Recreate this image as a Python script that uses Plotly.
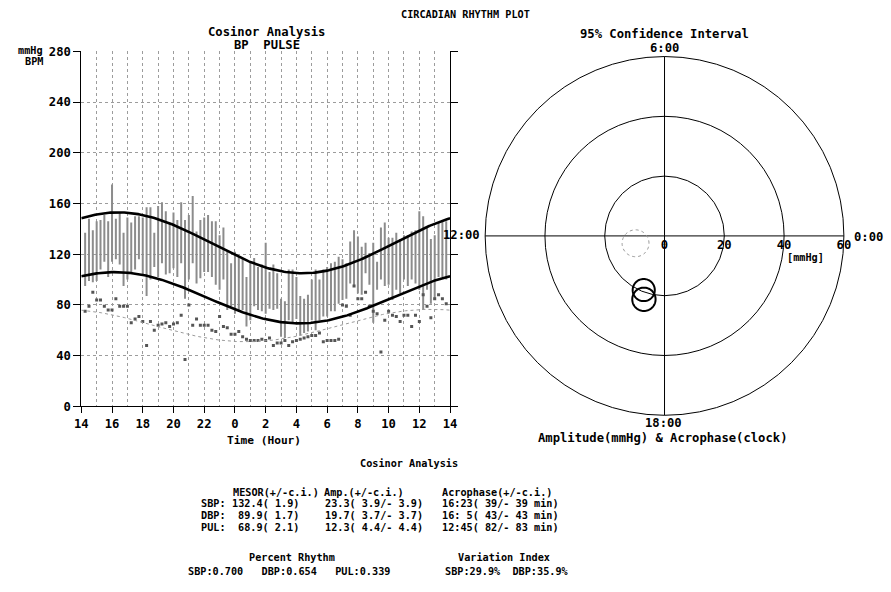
import math
import plotly.graph_objects as go

# the capture maps figure pixels to the 891x592 picture as
#   pic = (fig + 8) * (891/907, 592/608); positions below are given in picture pixels
SX, SY, OFF = 907 / 891, 608 / 592, 8
W, H = 899, 600
FS = SX  # font compensation
MONO = "DejaVu Sans Mono"

# ---------------- data ----------------
# measurement times (hours on a 14:00 -> 14:00 axis, values > 24 are next day)
time_h = [14.25, 14.5, 14.75, 15.0, 15.25, 15.5, 15.75, 16.0, 16.25, 16.5,
          16.75, 17.0, 17.25, 17.5, 17.75, 18.0, 18.25, 18.5, 18.75, 19.0,
          19.25, 19.5, 19.75, 20.0, 20.25, 20.5, 20.75, 21.0, 21.25, 21.5,
          21.75, 22.0, 22.25, 22.5, 22.75, 23.0, 23.25, 23.5, 23.75, 24.0,
          24.25, 24.5, 24.75, 25.0, 25.25, 25.5, 25.75, 26.0, 26.25, 26.5,
          26.75, 27.0, 27.25, 27.5, 27.75, 28.0, 28.25, 28.5, 28.75, 29.0,
          29.25, 29.5, 29.75, 30.0, 30.25, 30.5, 30.75, 31.0, 31.25, 31.5,
          31.75, 32.0, 32.25, 32.5, 32.75, 33.0, 33.25, 33.5, 33.75, 34.0,
          34.25, 34.5, 34.75, 35.0, 35.25, 35.5, 35.75, 36.0, 36.25, 36.5,
          36.75, 37.0, 37.25, 37.5, 37.75]

sbp = [137, 148, 139, 146, 147, 151, 146, 175, 148, 153,
       137, 149, 145, 150, 150, 149, 157, 157, 137, 158,
       161, 154, 145, 153, 147, 161, 147, 151, 166, 138,
       147, 149, 151, 146, 146, 135, 141, 122, 113, 122,
       118, 117, 102, 114, 117, 110, 112, 129, 106, 112,
       105, 85, 83, 108, 108, 102, 87, 85, 88, 100,
       108, 100, 108, 110, 113, 114, 118, 116, 113, 130,
       139, 134, 126, 129, 121, 129, 114, 141, 145, 133,
       133, 137, 132, 135, 135, 138, 139, 154, 150, 141,
       132, 135, 145, 146, 146]

dbp = [95, 99, 98, 99, 108, 114, 102, 114, 116, 112,
       95, 100, 105, 108, 116, 104, 87, 100, 110, 102,
       113, 104, 105, 109, 102, 113, 85, 100, 113, 97,
       101, 106, 106, 102, 96, 92, 100, 76, 79, 73,
       75, 76, 63, 68, 79, 76, 75, 73, 77, 76,
       77, 55, 54, 68, 66, 69, 56, 58, 59, 68,
       60, 68, 71, 71, 75, 75, 81, 84, 85, 97,
       95, 89, 88, 105, 96, 66, 92, 100, 95, 96,
       84, 92, 89, 100, 95, 100, 97, 92, 76, 92,
       81, 84, 102, 102, 100]

pul = [75, 79, 90, 84, 84, 79, 76, 76, 85, 79,
       79, 79, 66, 69, 71, 67, 48, 67, 60, 64,
       65, 66, 63, 65, 66, 72, 37, 80, 64, 69,
       64, 64, 64, 60, 59, 71, 63, 62, 57, 57,
       59, 55, 53, 52, 52, 52, 53, 52, 54, 48,
       50, 50, 52, 48, 51, 52, 53, 54, 55, 56,
       56, 58, 51, 52, 52, 52, 53, 80, 79, 72,
       95, 85, 85, 90, 79, 75, 73, 43, 68, 75,
       72, 71, 67, 72, 72, 63, 72, 67, 88, 79,
       70, 85, 88, 85, 81]

# cosinor fitted curves as drawn (mesor, amplitude, acrophase hour)
fit_names = ["SBP", "DBP", "PUL"]
fit_mesor = [129.0, 85.7, 63.8]
fit_amp = [24.0, 20.2, 12.8]
fit_acro = [16.4, 16.2, 12.75]

x_tickvals = [14, 16, 18, 20, 22, 24, 26, 28, 30, 32, 34, 36, 38]
x_ticktext = ["14", "16", "18", "20", "22", "0", "2", "4", "6", "8", "10", "12", "14"]
y_tickvals = [0, 40, 80, 120, 160, 200, 240, 280]

# 95% confidence regions on the polar plot (amplitude, acrophase hour, radius)
ci_names = ["SBP", "DBP", "PUL"]
ci_amp = [22.3, 19.4, 10.0]
ci_acro = [16.8, 16.6, 12.95]
ci_rad = [3.9, 3.7, 4.5]

radial_ticks = [0, 20, 40, 60]
clock_labels = ["0:00", "6:00", "12:00", "18:00"]

# ---------------- figure ----------------
fig = go.Figure()

bx, by = [], []
for t, s, d in zip(time_h, sbp, dbp):
    bx += [t, t, None]
    by += [d, s, None]
fig.add_trace(go.Scatter(x=bx, y=by, mode="lines",
                         line=dict(color="#8c8c8c", width=2), hoverinfo="skip"))

fig.add_trace(go.Scatter(x=time_h, y=pul, mode="markers",
                         marker=dict(symbol="square", size=3, color="#555555")))

xs = [14 + i * 0.1 for i in range(241)]
for k, name in enumerate(fit_names):
    ys = [fit_mesor[k] + fit_amp[k] * math.cos(2 * math.pi * (x - fit_acro[k]) / 24) for x in xs]
    if name == "PUL":
        fig.add_trace(go.Scatter(x=xs, y=ys, mode="lines", yaxis="y2",
                                 line=dict(color="#9a9a9a", width=1, dash="dot")))
    else:
        fig.add_trace(go.Scatter(x=xs, y=ys, mode="lines",
                                 line=dict(color="black", width=2.6)))

# polar CI circles
for k, name in enumerate(ci_names):
    ang = math.radians(ci_acro[k] * 15)
    cx, cy = ci_amp[k] * math.cos(ang), ci_amp[k] * math.sin(ang)
    rr, th = [], []
    for j in range(73):
        p = 2 * math.pi * j / 72
        qx = cx + ci_rad[k] * math.cos(p)
        qy = cy + ci_rad[k] * math.sin(p)
        rr.append(math.hypot(qx, qy))
        th.append(math.degrees(math.atan2(qy, qx)) % 360)
    if name == "PUL":
        line = dict(color="#999999", width=1, dash="dot")
    else:
        line = dict(color="black", width=2)
    fig.add_trace(go.Scatterpolar(r=rr, theta=th, mode="lines", line=line))


def px(x):
    return (x * SX - OFF) / W


def py(y):
    return 1 - (y * SY - OFF) / H


def fs(s):
    return round(s * FS, 1)


grid = dict(showgrid=True, gridcolor="#9c9c9c", griddash="dot", gridwidth=1)
tickfont = dict(family=MONO, size=fs(12), color="black", weight="bold")

PCX, PCY, PR = 664, 236, 179

fig.update_layout(
    width=W, height=H, margin=dict(l=0, r=0, t=0, b=0),
    paper_bgcolor="white", plot_bgcolor="white", showlegend=False,
    xaxis=dict(domain=[px(82), px(450)], range=[14, 38], tickvals=x_tickvals,
               ticktext=x_ticktext, ticks="outside", ticklen=6, tickcolor="black",
               showline=True, linecolor="black", linewidth=1, zeroline=False,
               tickfont=tickfont,
               minor=dict(dtick=1, tick0=14, showgrid=True, gridcolor="#9c9c9c",
                          griddash="dot", gridwidth=1), **grid),
    yaxis=dict(domain=[py(406), py(52)], range=[0, 280], tickvals=y_tickvals,
               ticks="outside", ticklen=7, tickcolor="black", showline=True,
               linecolor="black", linewidth=1, zeroline=False, tickfont=tickfont,
               **grid),
    yaxis2=dict(overlaying="y", side="right", range=[0, 280], tickvals=y_tickvals,
                ticks="outside", ticklen=7, tickcolor="black", showline=True,
                linecolor="black", linewidth=1, showticklabels=False,
                showgrid=False, zeroline=False),
    polar=dict(
        domain=dict(x=[px(PCX - PR), px(PCX + PR)], y=[py(PCY + PR), py(PCY - PR)]),
        bgcolor="white",
        angularaxis=dict(rotation=0, direction="counterclockwise",
                         tickvals=[0, 90, 180, 270], showticklabels=False,
                         showgrid=True, gridcolor="black", gridwidth=1,
                         showline=True, linecolor="black", linewidth=1, ticks=""),
        radialaxis=dict(range=[0, 60], tickvals=radial_ticks, angle=0,
                        side="clockwise", showgrid=True, gridcolor="black",
                        gridwidth=1, showline=False, ticks="",
                        tickfont=tickfont),
    ),
)

ann = []


def text(x, y, s, size=11, anchor="center"):
    ann.append(dict(x=px(x), y=py(y), xref="paper", yref="paper", text=s,
                    showarrow=False, xanchor=anchor, yanchor="middle",
                    font=dict(family=MONO, size=fs(size), color="black", weight="bold")))


text(465, 15, "CIRCADIAN RHYTHM PLOT", 10)
text(267, 33, "Cosinor Analysis", 12)
text(267, 46, "BP  PULSE", 12)
text(46, 51, "mmHg", 10, anchor="right")
text(46, 62, "BPM", 10, anchor="right")
text(264, 440, "Time (Hour)", 11)
text(664, 35, "95% Confidence Interval", 12)
text(662, 437, "Amplitude(mmHg) & Acrophase(clock)", 12)
text(805, 258, "[mmHg]", 10)

# clock labels around the polar plot
text(868, 237, clock_labels[0], 12)
text(664, 49, clock_labels[1], 12)
text(461, 235, clock_labels[2], 12)
text(663, 423, clock_labels[3], 12)

text(409, 463, "Cosinor Analysis", 10)
text(231, 492, "MESOR(+/-c.i.)", 10, anchor="left")
text(322, 492, "Amp.(+/-c.i.)", 10, anchor="left")
text(440, 492, "Acrophase(+/-c.i.)", 10, anchor="left")
row_labels = ["SBP:", "DBP:", "PUL:"]
mesor_txt = ["132.4( 1.9)", "89.9( 1.7)", "68.9( 2.1)"]
amp_txt = ["23.3( 3.9/- 3.9)", "19.7( 3.7/- 3.7)", "12.3( 4.4/- 4.4)"]
acro_txt = ["16:23( 39/- 39 min)", "16: 5( 43/- 43 min)", "12:45( 82/- 83 min)"]
for i in range(3):
    y = 503 + 12 * i
    text(199, y, row_labels[i], 10, anchor="left")
    text(301, y, mesor_txt[i], 10, anchor="right")
    text(323, y, amp_txt[i], 10, anchor="left")
    text(440, y, acro_txt[i], 10, anchor="left")

text(292, 557, "Percent Rhythm", 10)
text(289, 571, "SBP:0.700   DBP:0.654   PUL:0.339", 10)
text(504, 557, "Variation Index", 10)
text(507, 571, "SBP:29.9%  DBP:35.9%", 10)

fig.update_layout(annotations=ann)

fig.write_html("out.html")
